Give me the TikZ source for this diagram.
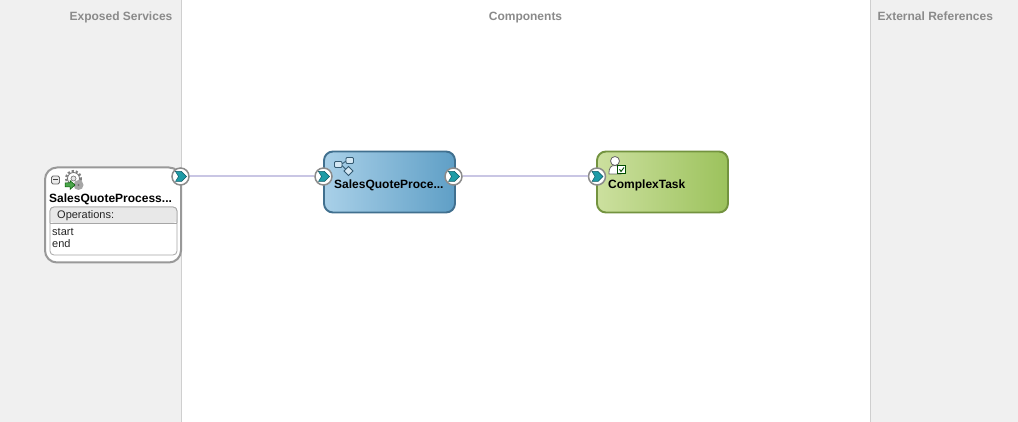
\documentclass[tikz,border=0pt]{standalone}
\usepackage{fontspec}
\setmainfont{Liberation Sans}
\definecolor{panel}{HTML}{F0F0F0}
\definecolor{rulec}{HTML}{CFCFCF}
\definecolor{headc}{HTML}{8A8A8A}
\definecolor{wirec}{HTML}{C9C6E4}
\definecolor{portc}{HTML}{1E9BA6}
\definecolor{portd}{HTML}{0E5A66}
\definecolor{blueL}{HTML}{A9D0E8}
\definecolor{blueR}{HTML}{5F9FC6}
\definecolor{blueB}{HTML}{41708F}
\definecolor{greenL}{HTML}{CCE09F}
\definecolor{greenR}{HTML}{9CC25C}
\definecolor{greenB}{HTML}{73933F}
\tikzset{
  header/.style={font=\fontsize{12}{14}\selectfont\bfseries,text=headc,inner sep=0pt,anchor=base},
  title/.style={font=\fontsize{12}{14}\selectfont\bfseries,text=black,inner sep=0pt,anchor=base west},
  small/.style={font=\fontsize{11}{12}\selectfont,text=black!85,inner sep=0pt,anchor=base west},
  wire/.style={draw=wirec,line width=2},
  port/.style={circle,draw=black!45,line width=1.5,fill=white,minimum size=17,inner sep=0pt,
    path picture={
      \fill[portc,draw=portd,line width=0.5] ([xshift=-5,yshift=5]path picture bounding box.center) -- ++(6,0) -- ++(5,5) -- ++(-5,5) -- ++(-6,0) -- ++(3,-5) -- cycle;
    }},
  blue box/.style={draw=blueB,line width=1.9,rounded corners=9,left color=blueL,right color=blueR,minimum width=131,minimum height=61,inner sep=0pt},
  green box/.style={draw=greenB,line width=1.9,rounded corners=9,left color=greenL,right color=greenR,minimum width=131,minimum height=61,inner sep=0pt},
  icon/.style={draw=blueB!80!black,line width=0.8},
  gicon/.style={draw=black!60,line width=0.8}
}
\begin{document}
\begin{tikzpicture}[x=1pt,y=-1pt]
\useasboundingbox (0,0) rectangle (1018,422);
\fill[white] (0,0) rectangle (1018,422);
\fill[panel] (0,0) rectangle (181.5,422);
\fill[panel] (870.5,0) rectangle (1018,422);
\draw[rulec,line width=1] (181.5,0) -- (181.5,422);
\draw[rulec,line width=1] (870.5,0) -- (870.5,422);
\node[header] (h1) at (121,20.5) {Exposed Services};
\node[header] (h2) at (525.5,20.5) {Components};
\node[header] (h3) at (935.3,20.5) {External References};

% service card
\node[draw=black!40,line width=2,fill=white,rounded corners=12,minimum width=136,minimum height=95,inner sep=0pt] (svc) at (113,215) {};
\node[title] (svct) at (49,202.5) {SalesQuoteProcess...};
\node[draw=black!35,line width=0.8,fill=white,rounded corners=4,minimum width=127,minimum height=48,inner sep=0pt] (ops) at (113.5,231) {};
\begin{scope}
  \clip[rounded corners=4] (50,207) rectangle (177,223);
  \fill[black!9] (50,207) rectangle (177,223);
\end{scope}
\draw[black!35,line width=0.8,rounded corners=4] (50,223) -- (50,207) -- (177,207) -- (177,223);
\draw[black!35,line width=0.8] (50,223) -- (177,223);
\node[small] (opl) at (57,219) {Operations:};
\node[small] (st) at (52,235.5) {start};
\node[small] (en) at (52,247.5) {end};
% collapse button
\node[draw=black!60,fill=black!8,rounded corners=1.5,minimum width=8,minimum height=8,inner sep=0pt,line width=0.8] (coll) at (55.5,180) {};
\draw[black!75,line width=1] (52.8,180) -- (58.2,180);
% gear icon
\draw[black!50,line width=2.2,dash pattern=on 2.2 off 1.9] (73.5,178.5) circle (7.4);
\draw[black!55,fill=white,line width=0.8] (73.5,178.5) circle (6);
\draw[black!50,fill=black!10,line width=0.7] (73.5,178.5) circle (2.5);
\fill[black!35] (78.5,185) circle (5);
\fill[black!55] (78.5,185) circle (1.2);
\fill[green!50!black!70,draw=green!35!black,line width=0.5] (65,183) -- (70,183) -- (70,180.5) -- (75,185) -- (70,189.5) -- (70,187) -- (65,187) -- cycle;

% blue component
\node[blue box] (bpel) at (389.5,182) {};
\node[title] (bpelt) at (334,188.5) {SalesQuoteProce...};
\draw[icon,fill=blueL!50,rounded corners=1] (334.5,161.5) rectangle (342,167.5);
\draw[icon,fill=blueL!50,rounded corners=1] (346,157.5) rectangle (353.5,163.5);
\draw[icon,fill=blueL!50] (348.5,166.5) -- (353,171) -- (348.5,175.5) -- (344,171) -- cycle;
\draw[icon] (342,164) -- (346,161);
\draw[icon] (342,165.5) -- (345.5,169);

% green component
\node[green box] (task) at (662.5,182) {};
\node[title] (taskt) at (608,188.5) {ComplexTask};
\draw[gicon,fill=white] (615,161) circle (4.5);
\draw[gicon,fill=white] (609,174) .. controls (609,167) and (611,165.5) .. (615,165.5) .. controls (619,165.5) and (621,167) .. (621,174) -- cycle;
\draw[draw=green!30!black,fill=white,line width=0.8] (617.5,165.5) rectangle (625.5,173.5);
\draw[green!30!black,line width=0.9] (619.5,169.3) -- (621,171.5) -- (624,167.5);

% ports and connectors
\node[port] (p1) at (180.5,176.5) {};
\node[port] (p2) at (323.5,176.5) {};
\node[port] (p3) at (453.5,176.5) {};
\node[port] (p4) at (597,176.5) {};
\draw[wire] (p1) -- (p2);
\draw[wire] (p3) -- (p4);
\end{tikzpicture}
\end{document}
